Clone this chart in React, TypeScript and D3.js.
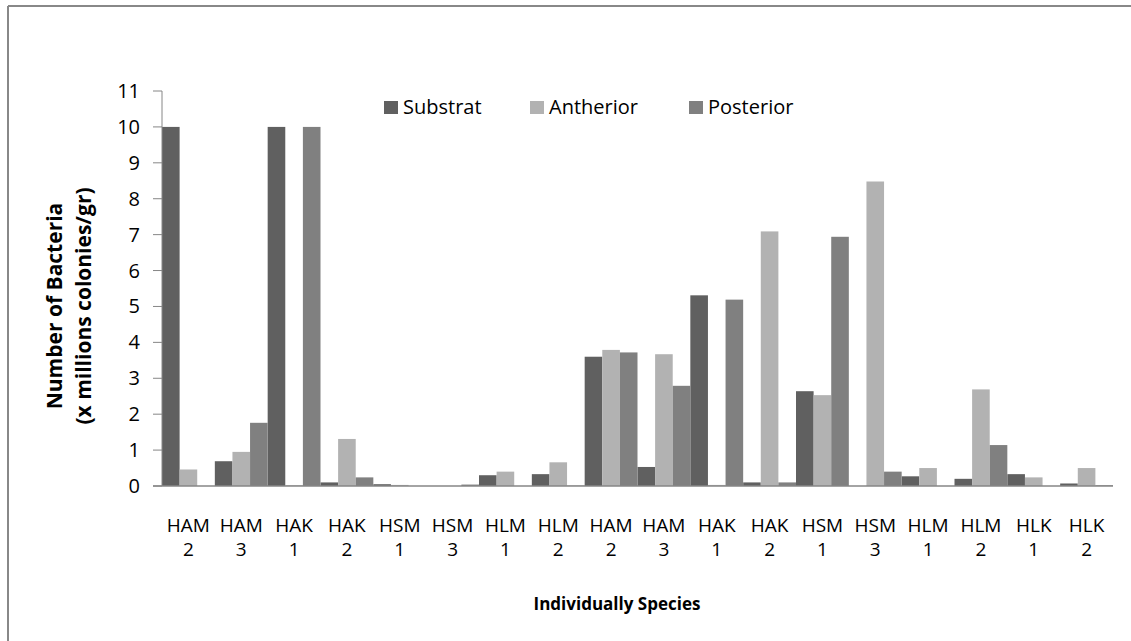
import React from "react";
import * as d3 from "d3";

const categories = ["HAM 2","HAM 3","HAK 1","HAK 2","HSM 1","HSM 3","HLM 1","HLM 2","HAM 2","HAM 3","HAK 1","HAK 2","HSM 1","HSM 3","HLM 1","HLM 2","HLK 1","HLK 2"];
const seriesNames = ["Substrat", "Antherior", "Posterior"];
const substrat = [10, 0.69, 10, 0.1, 0.05, 0, 0.3, 0.33, 3.6, 0.53, 5.31, 0.1, 2.64, 0, 0.27, 0.2, 0.33, 0.07];
const antherior = [0.46, 0.95, 0.02, 1.31, 0.03, 0, 0.4, 0.66, 3.79, 3.67, 0.03, 7.09, 2.53, 8.48, 0.5, 2.69, 0.24, 0.5];
const posterior = [0, 1.76, 10, 0.24, 0, 0.04, 0, 0.01, 3.72, 2.79, 5.19, 0.1, 6.94, 0.4, 0, 1.14, 0, 0.02];
const yTicks = [0, 1, 2, 3, 4, 5, 6, 7, 8, 9, 10, 11];
const colors = ["#606060", "#b2b2b2", "#808080"];

const W = 1131, H = 641;
const left = 162, right = 1113, top = 91, bottom = 486;
const FONT = "'Open Sans', sans-serif";

export default function App() {
  const series = [substrat, antherior, posterior];
  const x = d3.scaleBand<number>().domain(categories.map((_, i) => i)).range([left, right]).paddingInner(0).paddingOuter(0);
  const xs = d3.scaleBand<number>().domain([0, 1, 2]).range([0, x.bandwidth()]).padding(0);
  const y = d3.scaleLinear().domain([0, 11]).range([bottom, top]);
  const axisColor = "#868686";
  const legendX = [384, 530, 689];

  return (
    <svg width={W} height={H} style={{ position: "absolute", left: 0, top: 0, background: "#fff" }} fontFamily={FONT}>
      <rect x={0} y={0} width={W} height={H} fill="#fff" />
      {/* frame (cropped) */}
      <line x1={8} x2={W} y1={6} y2={6} stroke="#888" strokeWidth={2} />
      <line x1={8} x2={8} y1={6} y2={H} stroke="#888" strokeWidth={2} />

      {/* bars */}
      {series.map((vals, s) =>
        vals.map((v, i) => (
          <rect
            key={`${s}-${i}`}
            x={(x(i) as number) + (xs(s) as number)}
            y={y(v)}
            width={xs.bandwidth()}
            height={bottom - y(v)}
            fill={colors[s]}
          />
        ))
      )}

      {/* y axis */}
      <line x1={left} x2={left} y1={y(11)} y2={bottom} stroke={axisColor} strokeWidth={1} />
      {yTicks.map((t) => (
        <g key={t}>
          <line x1={153} x2={left} y1={y(t)} y2={y(t)} stroke={axisColor} strokeWidth={1} />
          <text x={140} y={y(t)} dy="0.35em" textAnchor="end" fontSize={20} fill="#000">
            {t}
          </text>
        </g>
      ))}
      {/* x axis */}
      <line x1={153} x2={right} y1={bottom} y2={bottom} stroke={axisColor} strokeWidth={1.5} />
      {categories.map((c, i) => {
        const [a, b] = c.split(" ");
        const cx = (x(i) as number) + x.bandwidth() / 2;
        return (
          <g key={i}>
            <text x={cx} y={532} textAnchor="middle" fontSize={19} fill="#000">{a}</text>
            <text x={cx} y={556} textAnchor="middle" fontSize={19} fill="#000">{b}</text>
          </g>
        );
      })}

      {/* legend */}
      {seriesNames.map((n, s) => (
        <g key={n}>
          <rect x={legendX[s]} y={101} width={14} height={13} fill={colors[s]} />
          <text x={legendX[s] + 19} y={114} fontSize={20} fill="#000">{n}</text>
        </g>
      ))}

      {/* axis titles */}
      <text x={617} y={610} textAnchor="middle" fontSize={17} fontWeight="bold" fill="#000">
        Individually Species
      </text>
      <text transform="translate(62,306) rotate(-90)" textAnchor="middle" fontSize={21} fontWeight="bold" fill="#000">
        <tspan x={0} y={0}>Number of Bacteria</tspan>
        <tspan x={0} y={29}>(x millions colonies/gr)</tspan>
      </text>
    </svg>
  );
}
